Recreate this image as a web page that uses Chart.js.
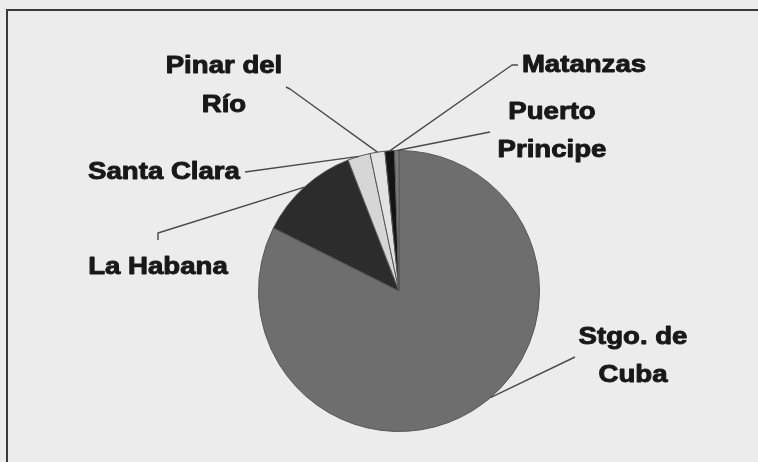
<!DOCTYPE html>
<html>
<head>
<meta charset="utf-8">
<script src="https://cdn.jsdelivr.net/npm/chart.js@4/dist/chart.umd.min.js"></script>
<style>
  body { margin: 0; background: #ececec; }
  canvas { display: block; }
</style>
</head>
<body>
<canvas id="pie" width="758" height="462"></canvas>
<script>
// datos (porcentaje por provincia)
const provincias = ['Stgo. de Cuba', 'La Habana', 'Santa Clara', 'Pinar del Río', 'Matanzas', 'Puerto Principe'];
const porcentajes = [82.4, 11.7, 2.6, 1.7, 1.1, 0.5];
const colores = ['#6e6e6e', '#2c2c2c', '#d6d6d6', '#e2e2e2', '#141414', '#7a7a7a'];

// texto de cada etiqueta (en lineas) y donde va
const etiquetas = [
  { lines: ['Stgo. de', 'Cuba'], x: 633, y: 337, gap: 38, path: [[575, 357]], at: 0.47 },
  { lines: ['La Habana'], x: 158, y: 267, gap: 0, path: [[158, 233], [158, 240]], at: 0.5 },
  { lines: ['Santa Clara'], x: 164, y: 172, gap: 0, path: [[245, 172]], at: 0.5 },
  { lines: ['Pinar del', 'Río'], x: 224, y: 66, gap: 39, path: [[290, 89], [286, 87]], at: 0.5 },
  { lines: ['Matanzas'], x: 584, y: 65, gap: 0, path: [[512, 65], [518, 65]], at: 0.5 },
  { lines: ['Puerto', 'Principe'], x: 552, y: 112, gap: 38, path: [[490, 132]], at: 0.5 }
];

const fondo = {
  id: 'fondo',
  beforeDraw(chart) {
    const c = chart.ctx;
    c.save();
    c.fillStyle = '#ececec';
    c.fillRect(0, 0, chart.width, chart.height);
    // marco
    c.strokeStyle = '#3a3a3a';
    c.lineWidth = 2;
    c.beginPath();
    c.moveTo(7, chart.height);
    c.lineTo(7, 10);
    c.lineTo(chart.width, 10);
    c.stroke();
    c.restore();
  }
};

const rotulos = {
  id: 'rotulos',
  afterDatasetsDraw(chart) {
    const c = chart.ctx;
    const arcs = chart.getDatasetMeta(0).data;
    c.save();
    arcs.forEach((arc, i) => {
      const e = etiquetas[i];
      const p = arc.getProps(['x', 'y', 'startAngle', 'endAngle', 'outerRadius'], true);
      const a = p.startAngle + (p.endAngle - p.startAngle) * e.at;
      c.strokeStyle = '#4a4a4a';
      c.lineWidth = 1.4;
      c.beginPath();
      c.moveTo(p.x + Math.cos(a) * p.outerRadius, p.y + Math.sin(a) * p.outerRadius);
      e.path.forEach(pt => c.lineTo(pt[0], pt[1]));
      c.stroke();

      c.fillStyle = '#181818';
      c.strokeStyle = '#181818';
      c.lineWidth = 0.9;
      c.lineJoin = 'round';
      c.font = 'bold 23px "Liberation Sans", Arial, sans-serif';
      c.textAlign = 'center';
      c.textBaseline = 'middle';
      e.lines.forEach((t, k) => {
        c.save();
        c.translate(e.x, e.y + k * e.gap);
        c.scale(1.2, 1.03);
        c.fillText(t, 0, 0);
        c.strokeText(t, 0, 0);
        c.restore();
      });
    });
    c.restore();
  }
};

new Chart(document.getElementById('pie'), {
  type: 'pie',
  data: {
    labels: provincias,
    datasets: [{
      data: porcentajes,
      backgroundColor: colores,
      borderColor: '#585858',
      borderWidth: 1
    }]
  },
  options: {
    responsive: false,
    animation: false,
    layout: { padding: { top: 150, bottom: 30, left: 258, right: 218 } },
    plugins: {
      legend: { display: false },
      tooltip: { enabled: false }
    }
  },
  plugins: [fondo, rotulos]
});
</script>
</body>
</html>
